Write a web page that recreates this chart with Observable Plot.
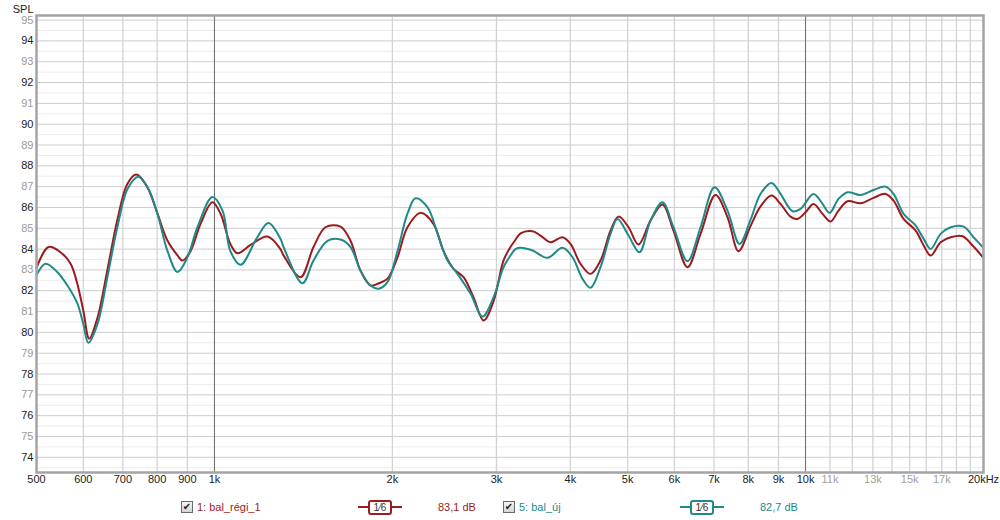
<!DOCTYPE html>
<html><head><meta charset="utf-8">
<script src="https://cdn.jsdelivr.net/npm/d3@7"></script>
<script src="https://cdn.jsdelivr.net/npm/@observablehq/plot@0.6"></script>
<style>
html,body{margin:0;padding:0;background:#fff;}
body{width:1000px;height:520px;overflow:hidden;font-family:"Liberation Sans",Arial,sans-serif;}
#chart svg{display:block;}
#legend{position:relative;width:1000px;height:26px;font-size:11px;}
#legend .it{position:absolute;top:0;height:26px;display:flex;align-items:center;white-space:nowrap;}
.cb{display:inline-block;box-sizing:border-box;width:12px;height:12px;border:1px solid #6a6a6a;background:linear-gradient(#f6f6f6,#d4d4d4);font-family:"DejaVu Sans",sans-serif;font-size:10px;line-height:10px;text-align:center;color:#222;}
.ln{display:inline-block;width:10px;height:2px;}
.bx{display:inline-block;box-sizing:border-box;border:2px solid;border-radius:3px;width:24px;height:15px;font-size:10px;line-height:11px;text-align:center;color:#333;}
</style></head>
<body><div id="chart"></div><div id="legend"></div>
<script>
// ---- data ----
const redFreq = [500,524,549,571,586,600,614,634,659,685,713,738,770,801,833,866,883,911,947,992,1024,1064,1094,1151,1229,1293,1309,1398,1471,1541,1634,1699,1766,1837,1887,1962,2040,2121,2232,2348,2441,2538,2639,2743,2853,2966,3083,3168,3231,3295,3452,3561,3703,3880,4003,4162,4327,4499,4678,4826,5018,5217,5467,5728,5978,6314,6643,7042,7379,7702,8069,8391,8759,9071,9432,9694,10000,10316,10685,11023,11369,11776,12391,13033,13656,14089,14648,15357,15842,16278,16924,17600,18444,19164,20000];
const redSpl  = [83.1,84.1,83.85,83.3,82.35,81.05,79.7,80.7,83.0,85.4,87.15,87.58,86.97,85.7,84.4,83.7,83.45,83.9,85.2,86.25,85.7,84.25,83.8,84.2,84.6,84.0,83.7,82.65,84.1,85.05,85.08,84.4,82.97,82.25,82.33,82.58,83.6,85.05,85.74,85.2,83.9,83.05,82.65,81.69,80.57,81.5,83.45,84.1,84.45,84.76,84.86,84.65,84.33,84.57,84.25,83.29,82.81,83.45,84.89,85.56,85.05,84.22,85.37,86.14,84.89,83.13,84.73,86.6,85.53,83.9,85.1,86.05,86.57,86.17,85.56,85.45,85.77,86.17,85.69,85.32,85.85,86.3,86.2,86.46,86.65,86.33,85.45,84.89,84.17,83.69,84.33,84.57,84.62,84.17,83.58];
const tealFreq = [500,518,542,564,586,600,612,634,659,685,713,744,773,801,833,866,900,936,992,1032,1064,1107,1182,1234,1293,1309,1409,1471,1553,1634,1699,1766,1837,1895,1962,2040,2121,2189,2294,2385,2479,2578,2712,2842,2966,3083,3168,3231,3295,3452,3660,3880,4034,4194,4327,4499,4678,4807,5018,5237,5467,5728,5978,6314,6643,7015,7379,7732,8069,8391,8759,9071,9506,9806,10316,10685,10980,11369,11776,12391,13033,13656,14089,14648,15357,15842,16278,16924,17600,18513,19239,20000];
const tealSpl  = [82.75,83.3,82.9,82.25,81.4,80.4,79.5,80.4,82.65,85.05,86.9,87.48,86.9,85.7,83.9,82.9,83.6,85.05,86.5,85.85,83.9,83.25,84.57,85.25,84.5,84.1,82.36,83.45,84.4,84.46,84.1,82.97,82.25,82.1,82.41,83.9,85.7,86.44,86.0,84.73,83.45,82.81,81.85,80.76,81.69,83.13,83.69,84.0,84.06,83.93,83.58,84.06,83.61,82.57,82.14,83.13,84.73,85.45,84.65,83.85,85.37,86.25,85.05,83.42,85.05,86.97,85.85,84.25,85.4,86.65,87.18,86.65,85.82,85.93,86.65,86.17,85.74,86.41,86.73,86.6,86.84,87.0,86.65,85.69,85.13,84.49,84.01,84.73,85.05,85.08,84.57,84.06];

const xTicksDark = [500,600,700,800,900,1000,2000,3000,4000,5000,6000,7000,8000,9000,10000,20000];
const xTicksLight = [11000,13000,15000,17000];
const xGridMinor = [600,700,800,900,2000,3000,4000,5000,6000,7000,8000,9000,11000,12000,13000,14000,15000,16000,17000,18000,19000];
const xGridMajor = [1000,10000];
const yTicksDark = [74,76,78,80,82,84,86,88,90,92,94];
const yTicksLight = [75,77,79,81,83,85,87,89,91,93,95];
const yGridInt = d3.range(74,96,1);
const yGridHalf = d3.range(73.5,95.5,1);

const seriesNames = ["1: bal_régi_1","5: bal_új"];
const seriesLevels = ["83,1 dB","82,7 dB"];
const smoothing = "1⁄6";
const colors = ["#9c1b1e","#218989"];

const red = redFreq.map((f,i)=>({f, v: redSpl[i]}));
const teal = tealFreq.map((f,i)=>({f, v: tealSpl[i]}));
const fmt = d => d >= 20000 ? "20kHz" : d >= 1000 ? (d/1000)+"k" : String(d);

const chart = Plot.plot({
  width: 1000, height: 494,
  marginLeft: 36, marginRight: 17, marginTop: 15, marginBottom: 22,
  style: {fontFamily: "Liberation Sans, Arial, sans-serif", fontSize: "11px", background: "#fff", overflow: "visible"},
  x: {type: "log", domain: [500, 20000], axis: null},
  y: {domain: [73.27, 95.22], axis: null},
  marks: [
    Plot.ruleY(yGridHalf, {stroke: "#ececec"}),
    Plot.ruleY(yGridInt, {stroke: "#cdcdcd"}),
    Plot.ruleX(xGridMinor, {stroke: "#d3d3d3", strokeWidth: 1.3}),
    Plot.ruleX(xGridMajor, {stroke: "#6a6a6a"}),
    Plot.line(red, {x: "f", y: "v", stroke: colors[0], strokeWidth: 2, curve: "catmull-rom"}),
    Plot.line(teal, {x: "f", y: "v", stroke: colors[1], strokeWidth: 2, curve: "catmull-rom"}),
    Plot.frame({stroke: "#a4a4a4", strokeWidth: 2.5}),
    Plot.text(yTicksDark, {y: d => d, frameAnchor: "left", dx: -3, textAnchor: "end", text: d => String(d), fill: "#222"}),
    Plot.text(yTicksLight, {y: d => d, frameAnchor: "left", dx: -3, textAnchor: "end", text: d => String(d), fill: "#9a9a9a"}),
    Plot.text(xTicksDark, {x: d => d, frameAnchor: "bottom", dy: 10, text: fmt, fill: "#222"}),
    Plot.text(xTicksLight, {x: d => d, frameAnchor: "bottom", dy: 10, text: fmt, fill: "#a0a0a0"}),
    Plot.text(["SPL"], {frameAnchor: "top-left", dx: -3, dy: -3, lineAnchor: "bottom", textAnchor: "end", fill: "#222"})
  ]
});
document.getElementById("chart").appendChild(chart);

// legend
const lg = document.getElementById("legend");
const pos = [{cb:181, name:197, sym:358, lvl:438},{cb:503, name:519, sym:680, lvl:760}];
seriesNames.forEach((n,i)=>{
  const p = pos[i];
  const c = colors[i];
  lg.insertAdjacentHTML("beforeend",
    `<div class="it" style="left:${p.cb}px"><span class="cb">✔</span></div>`+
    `<div class="it" style="left:${p.name}px;color:${c}">${n}</div>`+
    `<div class="it" style="left:${p.sym}px"><span class="ln" style="background:${c}"></span><span class="bx" style="border-color:${c}">${smoothing}</span><span class="ln" style="background:${c}"></span></div>`+
    `<div class="it" style="left:${p.lvl}px;color:${c}">${seriesLevels[i]}</div>`);
});
</script></body></html>
